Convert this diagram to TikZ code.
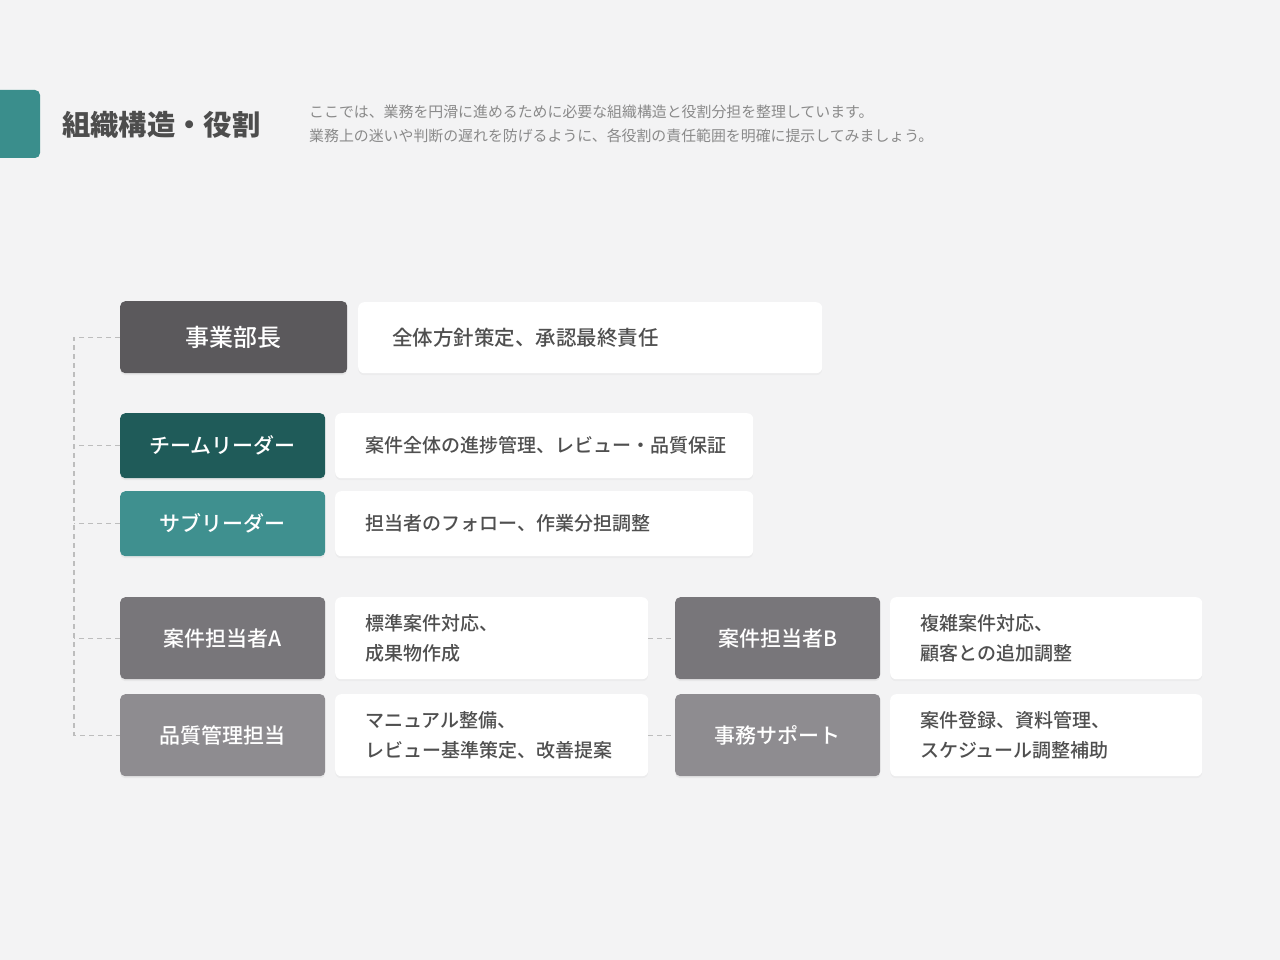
\documentclass[tikz,border=0pt]{standalone}
\usepackage{fontspec}
\setmainfont{Noto Sans CJK JP}
\newfontfamily\jpmed{Noto Sans CJK JP Medium}
\usetikzlibrary{shadows}
\definecolor{bgc}{HTML}{F3F3F4}
\definecolor{accent}{HTML}{3A8E8C}
\definecolor{titlec}{HTML}{4D4D4D}
\definecolor{subc}{HTML}{8A8A8A}
\definecolor{bossc}{HTML}{5B595C}
\definecolor{tlc}{HTML}{1F5B59}
\definecolor{subl}{HTML}{3F908F}
\definecolor{ownerc}{HTML}{78767A}
\definecolor{qac}{HTML}{8E8C90}
\definecolor{descc}{HTML}{4F4F4F}
\definecolor{dashc}{HTML}{BDBDBD}
\tikzset{
  rolebox/.style={anchor=north west, rounded corners=5pt, inner sep=0pt, text=white,
    font=\fontsize{21}{25}\selectfont\jpmed, align=center,
    drop shadow={opacity=0.10, shadow xshift=0pt, shadow yshift=-2pt}},
  descbox/.style={anchor=north west, rounded corners=6pt, fill=white, inner ysep=0pt,
    inner xsep=30pt, text=descc, align=left,
    font=\fontsize{19}{30}\selectfont\jpmed,
    drop shadow={opacity=0.06, shadow xshift=0pt, shadow yshift=-2pt}},
  conn/.style={draw=dashc, line width=1.3pt, dash pattern=on 5pt off 4pt}
}
\begin{document}
\begin{tikzpicture}[x=1pt,y=-1pt]
\useasboundingbox (0,0) rectangle (1280,960);
\fill[bgc] (0,0) rectangle (1280,960);
\begin{scope}
\clip (0,0) rectangle (1280,960);
\fill[accent, rounded corners=5pt] (-10,90) rectangle (40,158);
\end{scope}
\node[anchor=west, inner sep=0pt, text=titlec, font=\fontsize{28.3}{32}\selectfont\bfseries] (title) at (62,125) {組織構造・役割};
\node[anchor=west, inner sep=0pt, text=subc, font=\fontsize{14.9}{18}\selectfont] (sub1) at (309,112) {ここでは、業務を円滑に進めるために必要な組織構造と役割分担を整理しています。};
\node[anchor=west, inner sep=0pt, text=subc, font=\fontsize{14.9}{18}\selectfont] (sub2) at (309,136) {業務上の迷いや判断の遅れを防げるように、各役割の責任範囲を明確に提示してみましょう。};

% row 1
\node[rolebox, fill=bossc, minimum width=227pt, minimum height=72pt, font=\fontsize{24}{28}\selectfont\jpmed] (boss) at (120,301) {事業部長};
\node[descbox, text width=396pt, inner xsep=34pt, minimum height=71pt, font=\fontsize{20.5}{30}\selectfont\jpmed] (bossd) at (358,302) {全体方針策定、承認最終責任};
% row 2
\node[rolebox, fill=tlc, minimum width=205pt, minimum height=65pt] (tl) at (120,413) {チームリーダー};
\node[descbox, text width=358pt, minimum height=65pt] (tld) at (335,413) {案件全体の進捗管理、レビュー・品質保証};
% row 3
\node[rolebox, fill=subl, minimum width=205pt, minimum height=65pt] (sl) at (120,491) {サブリーダー};
\node[descbox, text width=358pt, minimum height=65pt] (sld) at (335,491) {担当者のフォロー、作業分担調整};
% row 4
\node[rolebox, fill=ownerc, minimum width=205pt, minimum height=82pt] (oa) at (120,597) {案件担当者A};
\node[descbox, text width=253pt, minimum height=82pt] (oad) at (335,597) {標準案件対応、\\成果物作成};
\node[rolebox, fill=ownerc, minimum width=205pt, minimum height=82pt] (ob) at (675,597) {案件担当者B};
\node[descbox, text width=252pt, minimum height=82pt] (obd) at (890,597) {複雑案件対応、\\顧客との追加調整};
% row 5
\node[rolebox, fill=qac, minimum width=205pt, minimum height=82pt] (qa) at (120,694) {品質管理担当};
\node[descbox, text width=253pt, minimum height=82pt] (qad) at (335,694) {マニュアル整備、\\レビュー基準策定、改善提案};
\node[rolebox, fill=qac, minimum width=205pt, minimum height=82pt] (sup) at (675,694) {事務サポート};
\node[descbox, text width=252pt, minimum height=82pt] (supd) at (890,694) {案件登録、資料管理、\\スケジュール調整補助};

% connectors
\coordinate (trunk) at (74,0);
\draw[conn] (boss.west) -- (boss.west -| trunk) -- (qa.west -| trunk) -- (qa.west);
\draw[conn] (tl.west) -- (tl.west -| trunk);
\draw[conn] (sl.west) -- (sl.west -| trunk);
\draw[conn] (oa.west) -- (oa.west -| trunk);
\draw[conn] (oad.east) -- (ob.west);
\draw[conn] (qad.east) -- (sup.west);
\end{tikzpicture}
\end{document}
